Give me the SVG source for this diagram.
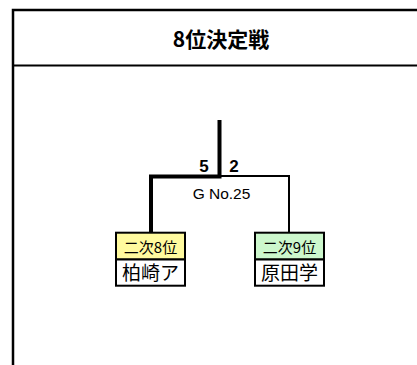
<svg xmlns="http://www.w3.org/2000/svg" width="417" height="365" viewBox="0 0 417 365">
<style>
.frame{stroke:#000;stroke-width:2.5;fill:none}
.thick{stroke:#000;stroke-width:4;fill:none}
.thin{stroke:#000;stroke-width:2;fill:none}
.box{stroke:#000;stroke-width:2}
.title{font-family:"Noto Sans CJK JP",sans-serif;font-weight:bold;font-size:21px;text-anchor:middle}
.score{font-family:"Liberation Sans",Arial,sans-serif;font-weight:bold;font-size:17px;text-anchor:middle}
.game{font-family:"Liberation Sans",Arial,sans-serif;font-size:15.5px;text-anchor:middle}
.rank{font-family:"Noto Sans CJK JP",sans-serif;font-size:15px;text-anchor:middle}
.name{font-family:"Noto Sans CJK JP",sans-serif;font-size:19px;text-anchor:middle}
</style>
<rect x="0" y="0" width="417" height="365" fill="#fff"/>
<g id="frame">
<path class="frame" d="M13,365 V10 H417"/>
<path class="thin" d="M13,65.5 H417"/>
<text class="title" x="221" y="47">8位決定戦</text>
</g>
<g id="connectors">
<path class="thin" d="M219,176 H289 V232"/>
<path class="thick" d="M219.5,120 V176.5 H151 V232"/>
</g>
<g id="labels">
<text class="score" x="204" y="172">5</text>
<text class="score" x="234" y="172">2</text>
<text class="game" x="221.5" y="199">G No.25</text>
</g>
<g id="node-left">
<rect class="box" x="116" y="232.7" width="69" height="26.8" fill="#FFFA9E"/>
<rect class="box" x="116" y="259.5" width="69" height="26.2" fill="#fff"/>
<text class="rank" x="150.5" y="253">二次8位</text>
<text class="name" x="150.5" y="279.5">柏崎ア</text>
</g>
<g id="node-right">
<rect class="box" x="255" y="232.7" width="69" height="26.8" fill="#CCF7CC"/>
<rect class="box" x="255" y="259.5" width="69" height="26.2" fill="#fff"/>
<text class="rank" x="289.5" y="253">二次9位</text>
<text class="name" x="289.5" y="279.5">原田学</text>
</g>
</svg>
